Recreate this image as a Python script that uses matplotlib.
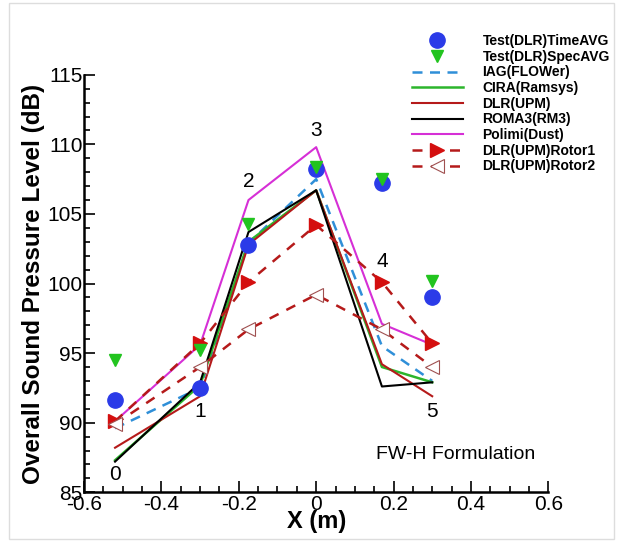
import numpy as np
import matplotlib.pyplot as plt
from matplotlib.patches import Rectangle

plt.rcParams['font.family'] = ['Liberation Sans', 'DejaVu Sans']

# microphone positions (m)
x_pos = [-0.52, -0.30, -0.175, 0.0, 0.17, 0.30]
point_labels = ['0', '1', '2', '3', '4', '5']

test_time = [91.6, 92.5, 102.8, 108.2, 107.2, 99.0]
test_spec = [94.5, 95.2, 104.3, 108.4, 107.5, 100.2]
iag = [89.6, 92.5, 102.9, 107.5, 95.5, 93.0]
cira = [87.3, 92.7, 103.0, 106.7, 94.0, 92.9]
dlr = [88.2, 91.9, 102.8, 106.7, 94.2, 91.9]
roma3 = [87.2, 92.9, 103.7, 106.7, 92.6, 92.9]
polimi = [90.1, 95.6, 106.0, 109.8, 97.1, 95.6]
rotor1 = [90.1, 95.7, 100.1, 104.2, 100.1, 95.7]
rotor2 = [89.9, 94.0, 96.7, 99.2, 96.7, 94.0]

# where the point numbers are written
label_y = [86.3, 90.8, 107.3, 111.0, 101.6, 90.8]

fig = plt.figure(figsize=(6.23, 5.5), dpi=100)
ax = fig.add_axes([0.135, 0.105, 0.745, 0.759])

ax.plot(x_pos, test_time, 'o', color='#2b3be8', ms=11, label='Test(DLR)TimeAVG', zorder=3)
ax.plot(x_pos, test_spec, 'v', color='#22c41f', ms=9, label='Test(DLR)SpecAVG', zorder=4)
ax.plot(x_pos, iag, '--', color='#2f8fd8', lw=1.8, dashes=(4, 3), label='IAG(FLOWer)')
ax.plot(x_pos, cira, '-', color='#2cb52c', lw=1.8, label='CIRA(Ramsys)')
ax.plot(x_pos, dlr, '-', color='#b51a1a', lw=1.5, label='DLR(UPM)')
ax.plot(x_pos, roma3, '-', color='black', lw=1.5, label='ROMA3(RM3)')
ax.plot(x_pos, polimi, '-', color='#d62fd6', lw=1.5, label='Polimi(Dust)')
ax.plot(x_pos, rotor1, '--', color='#b51a1a', lw=1.8, dashes=(4, 3.5), marker='>',
        ms=10, mfc='#d40f0f', mec='#d40f0f', label='DLR(UPM)Rotor1')
ax.plot(x_pos, rotor2, '--', color='#b51a1a', lw=1.8, dashes=(4, 3.5), marker='<',
        ms=10, mfc='white', mec='#a05050', mew=0.8, label='DLR(UPM)Rotor2')

for xp, yp, t in zip(x_pos, label_y, point_labels):
    ax.text(xp, yp, t, fontsize=15, ha='center', va='center')

ax.text(0.155, 87.7, 'FW-H Formulation', fontsize=14, ha='left', va='center')

ax.set_xlim(-0.6, 0.6)
ax.set_ylim(85, 115)
ax.set_xticks(np.arange(-0.6, 0.61, 0.2))
ax.set_xticklabels(['-0.6', '-0.4', '-0.2', '0', '0.2', '0.4', '0.6'])
ax.set_xticks(np.arange(-0.6, 0.61, 0.05), minor=True)
ax.set_yticks(np.arange(85, 116, 5))
ax.set_yticks(np.arange(85, 116, 1), minor=True)
ax.tick_params(which='both', direction='in', width=1.2, labelsize=15)
ax.tick_params(which='major', length=8)
ax.tick_params(which='minor', length=4)
ax.tick_params(axis='y', pad=1)
ax.tick_params(axis='x', pad=2)
for s in ['top', 'right']:
    ax.spines[s].set_visible(False)
for s in ['left', 'bottom']:
    ax.spines[s].set_linewidth(1.8)

ax.set_xlabel('X (m)', fontsize=17, fontweight='bold', labelpad=-3)
ax.set_ylabel('Overall Sound Pressure Level (dB)', fontsize=17.5, fontweight='bold', labelpad=2)

leg = fig.legend(loc='upper right', bbox_to_anchor=(0.988, 0.948), frameon=False,
                 prop={'weight': 'bold', 'size': 10}, handlelength=3.7,
                 labelspacing=0.12, handletextpad=1.4, borderaxespad=0)

fig.patches.append(Rectangle((0.015, 0.02), 0.97, 0.975, transform=fig.transFigure,
                             fill=False, ec='#dddddd', lw=1))

fig.savefig('out.png', dpi=100)
